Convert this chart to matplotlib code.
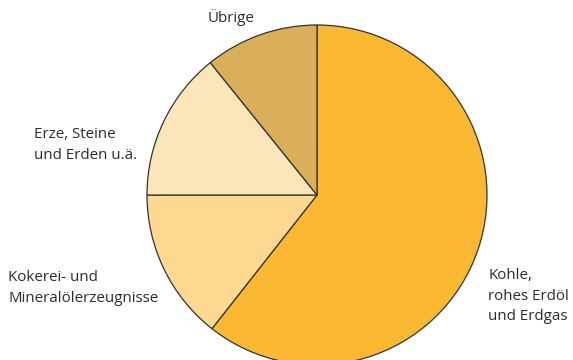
import matplotlib
matplotlib.use("Agg")
import matplotlib.pyplot as plt

categories = ["Kohle,\nrohes Erdöl\nund Erdgas", "Kokerei- und\nMineralölerzeugnisse",
              "Erze, Steine\nund Erden u.ä.", "Übrige"]
values = [60.6, 14.4, 14.2, 10.8]
colors = ["#FBB833", "#FDD891", "#FDE5BA", "#DBAF5A"]

W, H = 573, 360
fig = plt.figure(figsize=(W / 100, H / 100), dpi=100)
cx, cy, r = 317, 195, 170
ax = fig.add_axes([(cx - r) / W, (H - cy - r) / H, 2 * r / W, 2 * r / H])
ax.pie(values, colors=colors, startangle=90, counterclock=False, radius=1,
       wedgeprops=dict(edgecolor="#333333", linewidth=0.9))
ax.set_xlim(-1, 1)
ax.set_ylim(-1, 1)
ax.set_aspect("auto")
ax.axis("off")

font = dict(family=["Open Sans", "DejaVu Sans"], fontsize=10.9, color="#2b2b2b",
            linespacing=1.5)
# label positions in pixels (x, y_center, ha)
pos = [(488, 296, "left"), (8, 288, "left"), (34, 145, "left"), (231, 17, "center")]
for lab, (x, y, ha) in zip(categories, pos):
    fig.text(x / W, 1 - y / H, lab, ha=ha, va="center", **font)

fig.savefig("out.png", dpi=100)
